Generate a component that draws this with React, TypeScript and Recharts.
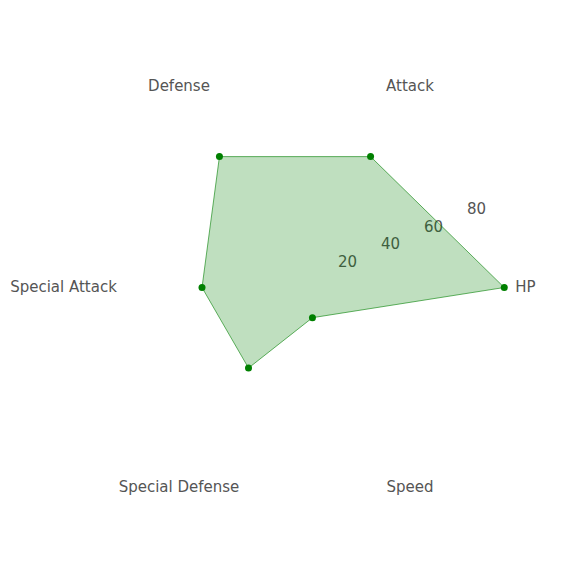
import React from "react";
import { RadarChart, Radar, PolarAngleAxis, PolarRadiusAxis } from "recharts";

// categories listed clockwise starting from the right (HP)
const stats = ["HP", "Speed", "Special Defense", "Special Attack", "Defense", "Attack"];
const values = [90, 15, 40, 40, 65, 65];
const radiusTicks = [0, 20, 40, 60, 80];

const data = stats.map((s, i) => ({ stat: s, value: values[i] }));

const CX = 287;
const CY = 279.5;
const OUTER = 209.25;
const LABEL_R = 231;
const FONT = "'DejaVu Sans', Verdana, sans-serif";
const TEXT = "#555555";

const AngleTick = (props: any) => {
  const { payload, cx, cy } = props;
  const ang = (payload.coordinate * Math.PI) / 180;
  const x = (cx ?? CX) + LABEL_R * Math.cos(ang) - 0.5;
  const y = (cy ?? CY) - LABEL_R * Math.sin(ang) - 1;
  return (
    <text x={x} y={y} textAnchor="middle" dominantBaseline="central" fill={TEXT} fontSize={15} fontFamily={FONT}>
      {payload.value}
    </text>
  );
};

const RadiusTick = (props: any) => {
  const { x, y, payload } = props;
  if (payload.value === 0) return null;
  return (
    <text x={x + 9.6} y={y - 7.5} textAnchor="middle" dominantBaseline="central" fill={TEXT} fontSize={15} fontFamily={FONT}>
      {payload.value}
    </text>
  );
};

export default function App() {
  return (
    <RadarChart width={560} height={560} data={data} cx={CX} cy={CY} outerRadius={OUTER} startAngle={0} endAngle={-360}>
      <PolarAngleAxis dataKey="stat" axisLine={false} tickLine={false} tick={<AngleTick />} />
      <PolarRadiusAxis
        angle={22.5}
        domain={[0, 90]}
        ticks={radiusTicks as any}
        tickCount={5}
        axisLine={false}
        tickLine={false}
        tick={<RadiusTick />}
      />
      <Radar
        dataKey="value"
        stroke="#008000"
        strokeWidth={0.6}
        fill="#008000"
        fillOpacity={0.25}
        dot={{ r: 3.5, fill: "#008000", fillOpacity: 1, stroke: "none" }}
        isAnimationActive={false}
        {...({ zIndex: 700 } as any)}
      />
    </RadarChart>
  );
}
